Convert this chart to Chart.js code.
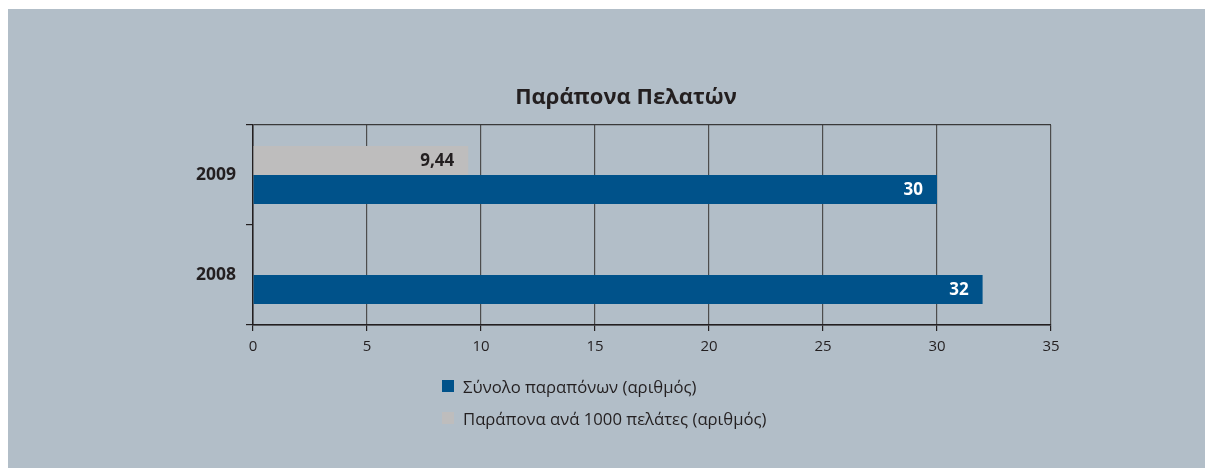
<!DOCTYPE html>
<html>
<head>
<meta charset="utf-8">
<script src="https://cdn.jsdelivr.net/npm/chart.js@4"></script>
<style>
  html, body { margin: 0; padding: 0; background: #fff; }
  body { width: 1205px; height: 468px; overflow: hidden; position: relative; }
  #box { position: absolute; left: 8px; top: 9px; width: 1197px; height: 459px; background: #b2bec8; }
  #chart { position: absolute; left: 0; top: 0; }
  #title { position: absolute; left: 418px; width: 400px; top: 72px; text-align: center;
           font-family: "Open Sans", sans-serif; font-weight: bold; font-size: 22px; line-height: 28px; color: #231f20; }
  #legend { position: absolute; left: 434px; top: 367px; font-family: "Open Sans", sans-serif; font-size: 16.7px; color: #231f20; }
  .item { display: flex; align-items: center; height: 20px; margin-bottom: 12px; white-space: nowrap; }
  .sw { width: 12px; height: 12px; margin-right: 9px; }
</style>
</head>
<body>
<div id="box">
  <canvas id="chart" width="1197" height="459"></canvas>
  <div id="title">Παράπονα Πελατών</div>
  <div id="legend"></div>
</div>
<script>
const years = ["2009", "2008"];
const totalComplaints = [30, 32];
const per1000 = [9.44, null];
const xTicks = [0, 5, 10, 15, 20, 25, 30, 35];

const blue = "#00528a";
const grey = "#bebdbd";
const ink = "#231f20";

// value labels at the inner end of each bar
const barLabels = {
  id: "barLabels",
  afterDatasetsDraw(chart) {
    const ctx = chart.ctx;
    ctx.save();
    ctx.font = "bold 17px 'Open Sans', sans-serif";
    ctx.textAlign = "right";
    ctx.textBaseline = "middle";
    chart.data.datasets.forEach((ds, i) => {
      chart.getDatasetMeta(i).data.forEach((bar, j) => {
        const v = ds.data[j];
        if (v == null) return;
        ctx.fillStyle = ds.labelColor;
        ctx.fillText(String(v).replace(".", ","), bar.x - 14, bar.y + 1);
      });
    });
    ctx.restore();
  },
};

const chart = new Chart(document.getElementById("chart"), {
  type: "bar",
  data: {
    labels: years,
    datasets: [
      {
        label: "Παράπονα ανά 1000 πελάτες (αριθμός)",
        data: per1000,
        backgroundColor: grey,
        labelColor: ink,
      },
      {
        label: "Σύνολο παραπόνων (αριθμός)",
        data: totalComplaints,
        backgroundColor: blue,
        labelColor: "#ffffff",
      },
    ],
  },
  options: {
    indexAxis: "y",
    responsive: false,
    animation: false,
    layout: { padding: { left: 150, right: 154, top: 116, bottom: 103 } },
    datasets: { bar: { barPercentage: 1, categoryPercentage: 0.58 } },
    plugins: {
      legend: { display: false },
      tooltip: { enabled: false },
    },
    scales: {
      x: {
        min: 0,
        max: 35,
        afterFit: (s) => { s.height = 40; },
        afterBuildTicks: (s) => { s.ticks = xTicks.map((v) => ({ value: v })); },
        ticks: { color: ink, font: { family: "'Open Sans', sans-serif", size: 15 }, padding: 7 },
        grid: { color: "#4d4d4d", lineWidth: 1.2, tickColor: ink, tickLength: 6 },
        border: { color: ink, width: 1.5 },
      },
      y: {
        afterFit: (s) => { s.width = 95; },
        ticks: { color: ink, font: { family: "'Open Sans', sans-serif", size: 17.5, weight: "bold" }, padding: 10 },
        grid: {
          color: (c) => (c.index === 1 ? "rgba(0,0,0,0)" : "#3a3a3a"),
          lineWidth: 1.2,
          tickColor: ink,
          tickLength: 7,
        },
        border: { color: ink, width: 1.5 },
      },
    },
  },
  plugins: [barLabels],
});

// legend, listed in reverse dataset order
const legend = document.getElementById("legend");
[...chart.data.datasets].reverse().forEach((ds) => {
  const row = document.createElement("div");
  row.className = "item";
  row.innerHTML = `<span class="sw" style="background:${ds.backgroundColor}"></span><span>${ds.label}</span>`;
  legend.appendChild(row);
});
</script>
</body>
</html>
